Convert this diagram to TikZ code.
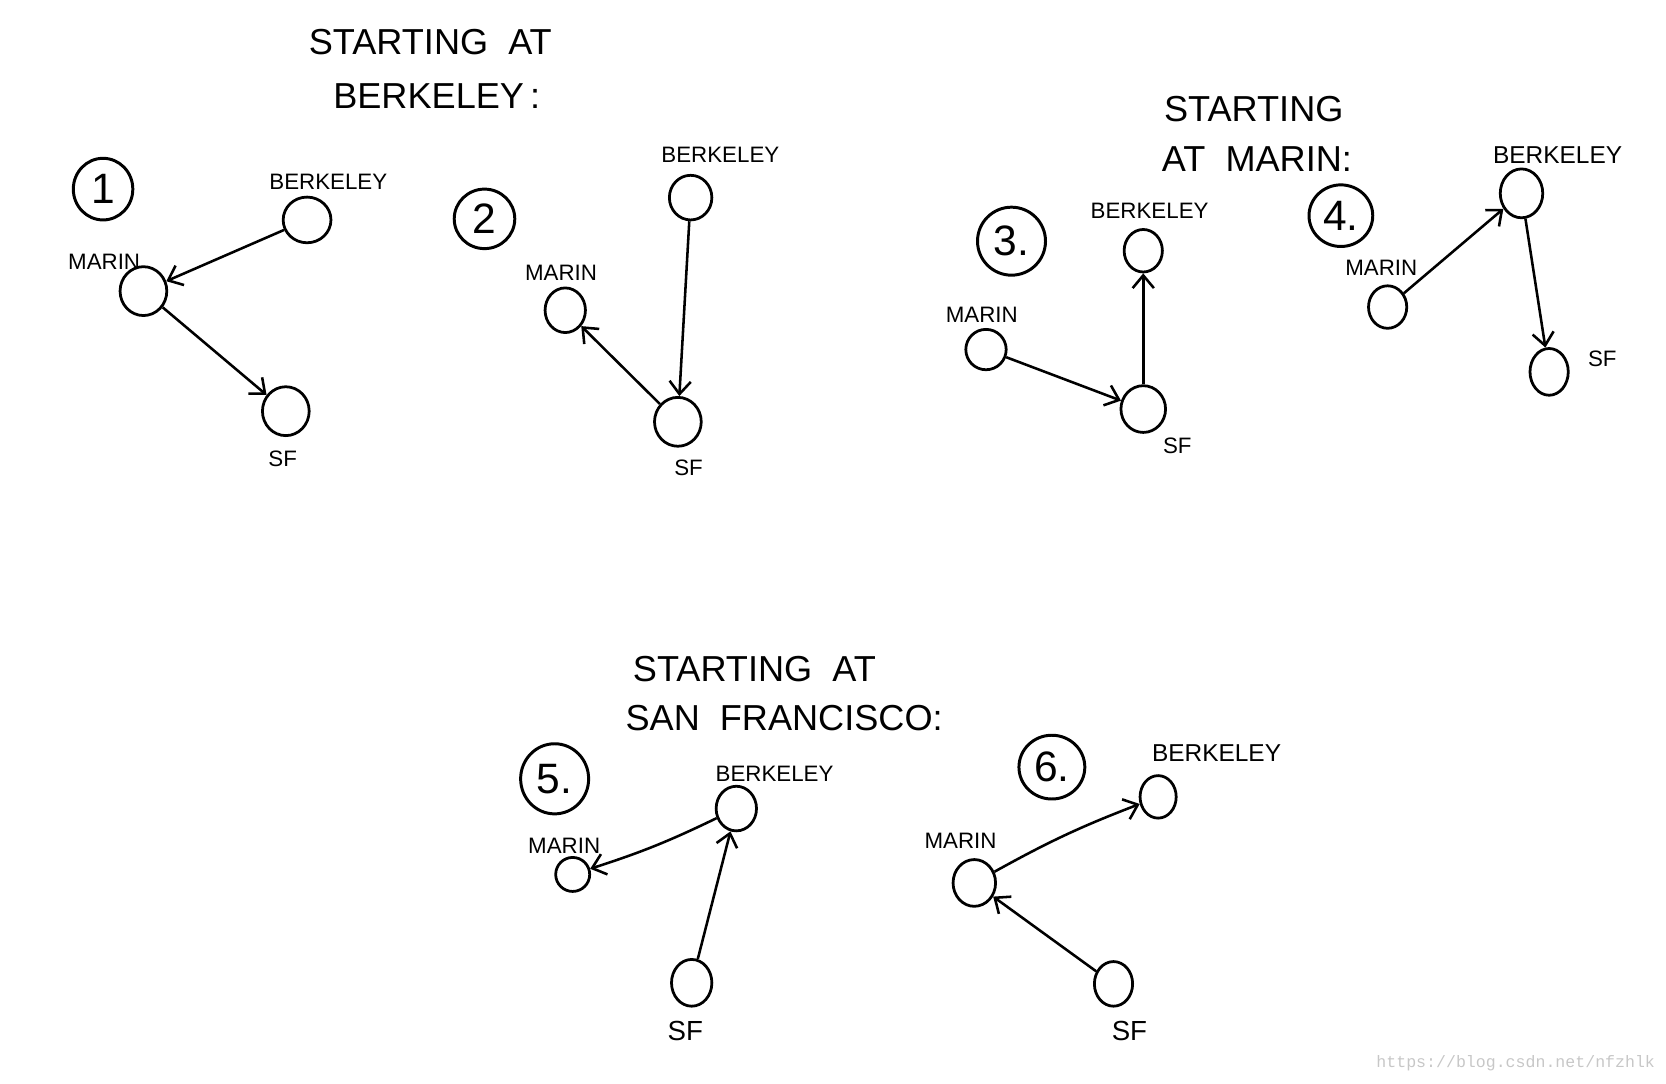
\documentclass[tikz,border=0pt]{standalone}
\usepackage{fontspec}
\setmainfont{Liberation Sans}
\setmonofont{Liberation Mono}
\usetikzlibrary{arrows.meta,shapes.geometric}
\begin{document}
\begin{tikzpicture}[x=0.5pt,y=-0.5pt,
  sz/.style 2 args={minimum width={#1*0.5pt}, minimum height={#2*0.5pt}},
  city/.style={draw,ellipse,line width=1.3pt,inner sep=0pt},
  num/.style={draw,ellipse,line width=1.4pt,inner sep=0pt,font=\fontsize{20}{20}\selectfont},
  lbl/.style={font=\fontsize{10.5}{12}\selectfont, inner sep=0pt},
  biglbl/.style={font=\fontsize{11.5}{13}\selectfont, inner sep=0pt},
  sflbl/.style={font=\fontsize{13}{15}\selectfont, inner sep=0pt},
  ttl/.style={font=\fontsize{17}{20}\selectfont, inner sep=0pt},
  edge/.style={line width=1.2pt,-{Straight Barb[length=6pt,width=10pt,line width=1.2pt]}}
]
\useasboundingbox (0,0) rectangle (1568,1020);

% titles
\node[ttl] (t1a) at (405,40) {STARTING\ \ AT};
\node[ttl] (t1b) at (411,90) {BERKELEY\,:};
\node[ttl] (t2a) at (1180,103) {STARTING};
\node[ttl] (t2b) at (1183,150) {AT\ \ MARIN:};
\node[ttl] (t3a) at (710,630) {STARTING\ \ AT};
\node[ttl] (t3b) at (738,676) {SAN\ \ FRANCISCO:};

% diagram 1
\node[num,sz={56}{58}] (n1) at (97,178) {1};
\node[lbl] (lb1) at (309,171) {BERKELEY};
\node[city,sz={45}{43}] (b1) at (289,207) {};
\node[lbl] (lm1) at (98,246) {MARIN};
\node[city,sz={44}{46}] (m1) at (135,274) {};
\node[city,sz={44}{46}] (s1) at (269,387) {};
\node[lbl] (ls1) at (266,432) {SF};
\draw[edge] (b1) -- (m1);
\draw[edge] (m1) -- (s1);

% diagram 2
\node[num,sz={57}{56}] (n2) at (456,206) {2};
\node[lbl] (lb2) at (678,146) {BERKELEY};
\node[city,sz={40}{42}] (b2) at (650,186) {};
\node[lbl] (lm2) at (528,257) {MARIN};
\node[city,sz={38}{42}] (m2) at (532,292) {};
\node[city,sz={44}{46}] (s2) at (638,397) {};
\node[lbl] (ls2) at (648,440) {SF};
\draw[edge] (b2) -- (s2);
\draw[edge] (s2) -- (m2);

% diagram 3
\node[num,sz={64}{64}] (n3) at (952,227) {3.};
\node[lbl] (lb3) at (1082,198) {BERKELEY};
\node[city,sz={36}{40}] (b3) at (1076,236) {};
\node[lbl] (lm3) at (924,296) {MARIN};
\node[city,sz={38}{38}] (m3) at (928,329) {};
\node[city,sz={42}{44}] (s3) at (1076,385) {};
\node[lbl] (ls3) at (1108,420) {SF};
\draw[edge] (m3) -- (s3);
\draw[edge] (s3) -- (b3);

% diagram 4
\node[num,sz={60}{58}] (n4) at (1262,203) {4.};
\node[biglbl] (lb4) at (1466,146) {BERKELEY};
\node[city,sz={40}{46}] (b4) at (1432,182) {};
\node[lbl] (lm4) at (1300,252) {MARIN};
\node[city,sz={36}{40}] (m4) at (1306,289) {};
\node[city,sz={36}{44}] (s4) at (1458,350) {};
\node[lbl] (ls4) at (1508,338) {SF};
\draw[edge] (m4) -- (b4);
\draw[edge] (b4) -- (s4);

% diagram 5
\node[num,sz={64}{66}] (n5) at (522,733) {5.};
\node[lbl] (lb5) at (729,728) {BERKELEY};
\node[city,sz={38}{42}] (b5) at (693,761) {};
\node[lbl] (lm5) at (531,796) {MARIN};
\node[city,sz={32}{32}] (m5) at (539,823) {};
\node[city,sz={38}{44}] (s5) at (651,925) {};
\node[sflbl] (ls5) at (645,970) {SF};
\draw[edge] (b5) to[bend left=4] (m5);
\draw[edge] (s5) -- (b5);

% diagram 6
\node[num,sz={62}{60}] (n6) at (990,722) {6.};
\node[biglbl] (lb6) at (1145,709) {BERKELEY};
\node[city,sz={34}{40}] (b6) at (1090,750) {};
\node[lbl] (lm6) at (904,791) {MARIN};
\node[city,sz={40}{44}] (m6) at (917,831) {};
\node[city,sz={36}{42}] (s6) at (1048,926) {};
\node[sflbl] (ls6) at (1063,970) {SF};
\draw[edge] (m6) to[bend left=4] (b6);
\draw[edge] (s6) -- (m6);

% watermark
\node[font=\ttfamily\fontsize{7.8}{9}\selectfont, text=black!22, anchor=east, inner sep=0pt] (wm) at (1558,1001) {https://blog.csdn.net/nfzhlk};
\end{tikzpicture}
\end{document}
